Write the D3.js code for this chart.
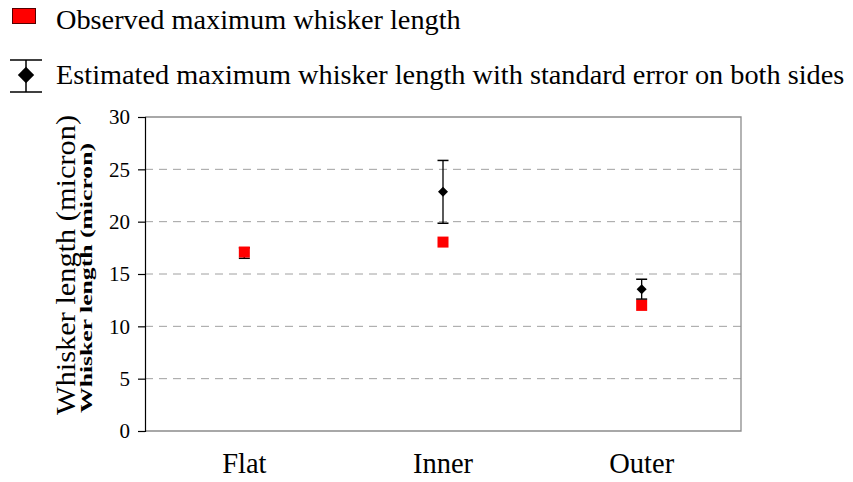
<!DOCTYPE html>
<html><head><meta charset="utf-8">
<script src="https://cdn.jsdelivr.net/npm/d3@7"></script>
</head><body style="margin:0;background:#fff"><svg id="c" width="853" height="482"></svg>
<script>
const categories = ["Flat", "Inner", "Outer"];
const observed = [17.1, 18.05, 12.0];
const estimated = [17.0, 22.85, 13.55];
const stdError = [0.5, 3.0, 0.95];
const yTicks = [0, 5, 10, 15, 20, 25, 30];
const legendLabels = ["Observed maximum whisker length", "Estimated maximum whisker length with standard error on both sides"];
const yTitle = "Whisker length (micron)";

const FONT = '"Liberation Serif", "Times New Roman", serif';
const svg = d3.select("#c");
const L = 145, R = 741, T = 117, B = 431;
const x = d3.scaleBand().domain(categories).range([L, R]);
const y = d3.scaleLinear().domain([0, 30]).range([B, T]);

// grid
svg.append("g").selectAll("line").data(yTicks.filter(d => d > 0 && d < 30)).join("line")
  .attr("x1", L).attr("x2", R).attr("y1", d => y(d)).attr("y2", d => y(d))
  .attr("stroke", "#a0a0a0").attr("stroke-width", 1).attr("stroke-dasharray", "8,6");
// border top/right/bottom
svg.append("path").attr("d", `M${L},${T}H${R}V${B}H${L}`).attr("fill", "none").attr("stroke", "#8c8c8c").attr("stroke-width", 1.3);

// y axis
const ya = svg.append("g").attr("transform", `translate(${L},0)`)
  .call(d3.axisLeft(y).tickValues(yTicks).tickSize(7).tickPadding(8));
ya.select(".domain").attr("stroke", "#000").attr("stroke-width", 1.2);
ya.selectAll(".tick line").attr("stroke", "#000").attr("stroke-width", 1.2);
ya.selectAll("text").attr("font-size", 21).attr("fill", "#000").style("font-family", FONT);

// x labels
const xa = svg.append("g").attr("transform", `translate(0,${B})`)
  .call(d3.axisBottom(x).tickSize(0).tickPadding(22));
xa.select(".domain").remove();
xa.selectAll("text").attr("font-size", 28.5).attr("fill", "#000").attr("dy", 0).attr("y", 42).style("font-family", FONT);

// y titles
svg.append("text").attr("transform", `translate(75,265) rotate(-90)`)
  .attr("text-anchor", "middle").attr("font-size", 28).style("font-family", FONT)
  .attr("textLength", 300).attr("lengthAdjust", "spacingAndGlyphs").text(yTitle);
svg.append("text").attr("transform", `translate(92,278) rotate(-90)`)
  .attr("text-anchor", "middle").attr("font-size", 17).attr("font-weight", "bold").style("font-family", FONT)
  .attr("textLength", 270).attr("lengthAdjust", "spacingAndGlyphs").text(yTitle);

const cx = d => x(d) + x.bandwidth() / 2;
const g = svg.append("g");
const data = categories.map((c, i) => ({c, o: observed[i], e: estimated[i], s: stdError[i]}));
// error bars
data.forEach(d => {
  const X = cx(d.c);
  g.append("line").attr("x1", X).attr("x2", X).attr("y1", y(d.e + d.s)).attr("y2", y(d.e - d.s)).attr("stroke", "#000").attr("stroke-width", 1.3);
  [d.e + d.s, d.e - d.s].forEach(v => g.append("line").attr("x1", X - 5.5).attr("x2", X + 5.5).attr("y1", y(v)).attr("y2", y(v)).attr("stroke", "#000").attr("stroke-width", 1.5));
  g.append("path").attr("d", d3.symbol(d3.symbolDiamond2, 64)()).attr("transform", `translate(${X},${y(d.e)})`).attr("fill", "#000");
});
// observed squares
g.selectAll("rect.o").data(data).join("rect").attr("class", "o")
  .attr("x", d => cx(d.c) - 5.5).attr("y", d => y(d.o) - 5.5).attr("width", 11).attr("height", 11).attr("fill", "#ff0000");

// legend
const lg = svg.append("g");
lg.append("rect").attr("x", 12.5).attr("y", 8.5).attr("width", 23).attr("height", 15).attr("fill", "#ff0000").attr("stroke", "#500").attr("stroke-width", 1);
lg.append("text").attr("x", 56).attr("y", 29).attr("font-size", 28.3).style("font-family", FONT).text(legendLabels[0]);
lg.append("line").attr("x1", 26).attr("x2", 26).attr("y1", 60).attr("y2", 92).attr("stroke", "#000").attr("stroke-width", 1.5);
[60, 92].forEach(v => lg.append("line").attr("x1", 10).attr("x2", 42).attr("y1", v).attr("y2", v).attr("stroke", "#000").attr("stroke-width", 1.5));
lg.append("path").attr("d", d3.symbol(d3.symbolDiamond2, 170)()).attr("transform", "translate(26,75)").attr("fill", "#000");
lg.append("text").attr("x", 56).attr("y", 84).attr("font-size", 28.3).style("font-family", FONT).text(legendLabels[1]);
</script></body></html>
